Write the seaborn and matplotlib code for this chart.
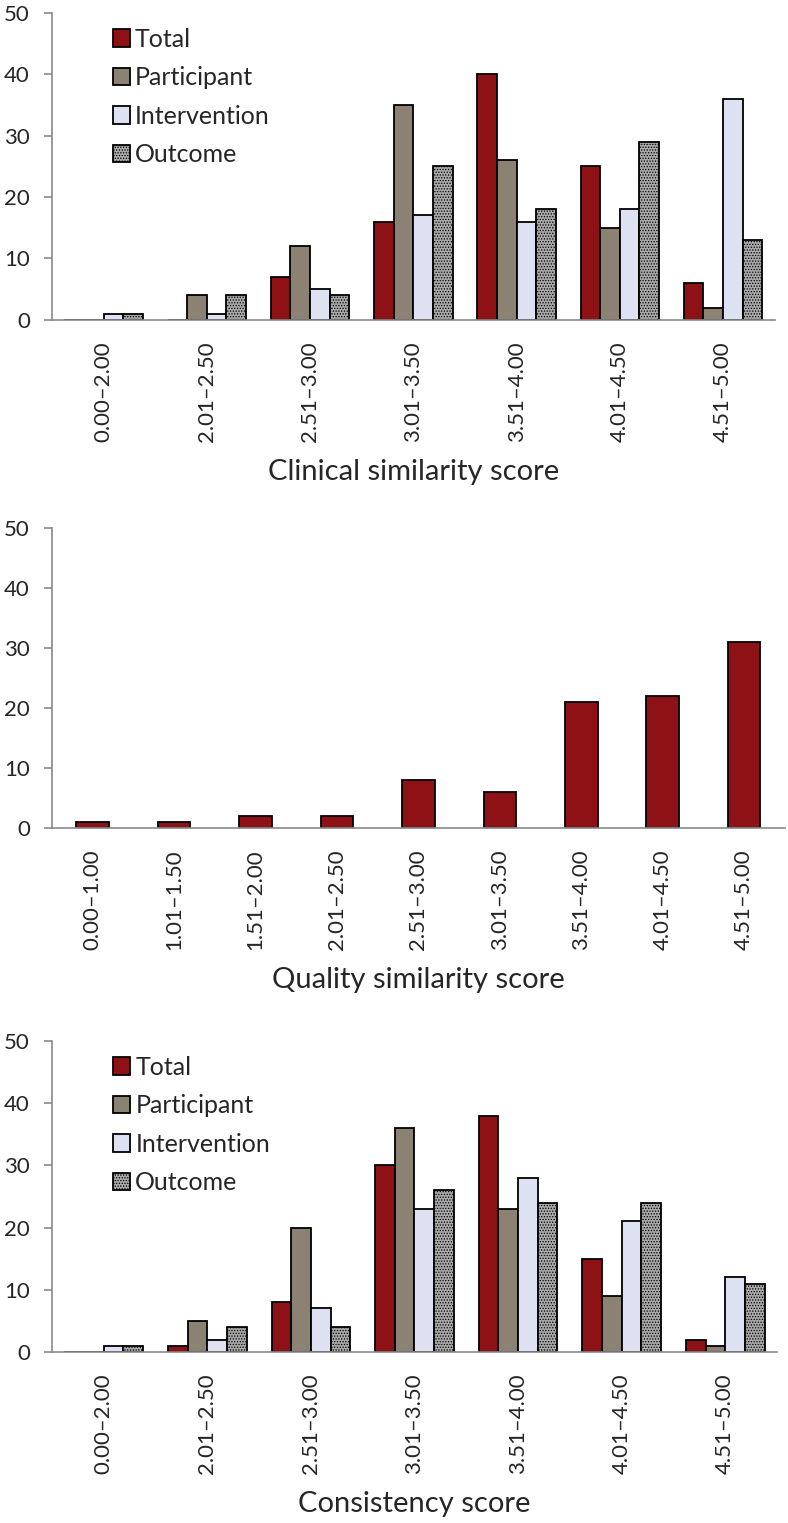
import matplotlib
matplotlib.use("Agg")
import matplotlib.pyplot as plt
import seaborn as sns
import pandas as pd

series = ["Total", "Participant", "Intervention", "Outcome"]

score_bins = ["0.00–2.00", "2.01–2.50", "2.51–3.00", "3.01–3.50",
              "3.51–4.00", "4.01–4.50", "4.51–5.00"]

clinical_total = [0, 0, 7, 16, 40, 25, 6]
clinical_participant = [0, 4, 12, 35, 26, 15, 2]
clinical_intervention = [1, 1, 5, 17, 16, 18, 36]
clinical_outcome = [1, 4, 4, 25, 18, 29, 13]

quality_bins = ["0.00–1.00", "1.01–1.50", "1.51–2.00", "2.01–2.50", "2.51–3.00",
                "3.01–3.50", "3.51–4.00", "4.01–4.50", "4.51–5.00"]
quality_total = [1, 1, 2, 2, 8, 6, 21, 22, 31]

consistency_total = [0, 1, 8, 30, 38, 15, 2]
consistency_participant = [0, 5, 20, 36, 23, 9, 1]
consistency_intervention = [1, 2, 7, 23, 28, 21, 12]
consistency_outcome = [1, 4, 4, 26, 24, 24, 11]

colors = {"Total": "#8e1116", "Participant": "#8c8274",
          "Intervention": "#dde1f1", "Outcome": "#a9a9a9"}
axis_grey = "#8a8a8a"

sns.set_style("white")
plt.rcParams["font.family"] = ["Lato", "DejaVu Sans"]
plt.rcParams["hatch.linewidth"] = 0.6


def long_table(bins, values):
    rows = []
    for name, vals in zip(series, values):
        for b, v in zip(bins, vals):
            rows.append({"bin": b, "series": name, "count": v})
    return pd.DataFrame(rows)


def style_axis(ax, xlabel):
    ax.set_ylim(0, 50)
    ax.set_yticks(range(0, 51, 10))
    sns.despine(ax=ax)
    for side in ["left", "bottom"]:
        ax.spines[side].set_color(axis_grey)
        ax.spines[side].set_linewidth(1.2)
    ax.tick_params(axis="y", left=True, length=6, width=1.2, color=axis_grey,
                   labelsize=16, pad=10)
    ax.tick_params(axis="x", bottom=False, labelsize=16, labelrotation=90, pad=12)
    ax.set_ylabel("")
    ax.set_xlabel(xlabel, fontsize=21, labelpad=12)


def grouped_panel(ax, values, xlabel):
    df = long_table(score_bins, values)
    sns.barplot(data=df, x="bin", y="count", hue="series", palette=colors,
                width=0.76, gap=0, saturation=1, edgecolor="black",
                linewidth=1.3, legend=False, ax=ax)
    for name, cont in zip(series, ax.containers):
        if name == "Outcome":
            for p in cont.patches:
                p.set_hatch("......")
    ax.legend(ax.containers, series, loc="upper left", bbox_to_anchor=(0.07, 0.985),
              frameon=False, fontsize=18, handlelength=0.7, handleheight=0.7,
              handletextpad=0.2, labelspacing=0.62, borderaxespad=0)
    style_axis(ax, xlabel)


fig = plt.figure(figsize=(7.88, 15.23), dpi=100)
ax1 = fig.add_axes([0.066, 0.790, 0.917, 0.2015])
ax2 = fig.add_axes([0.066, 0.4563, 0.93, 0.197])
ax3 = fig.add_axes([0.066, 0.1123, 0.92, 0.2042])

grouped_panel(ax1, [clinical_total, clinical_participant,
                    clinical_intervention, clinical_outcome],
              "Clinical similarity score")

sns.barplot(x=quality_bins, y=quality_total, color=colors["Total"], width=0.4,
            saturation=1, edgecolor="black", linewidth=1.3, ax=ax2)
style_axis(ax2, "Quality similarity score")

grouped_panel(ax3, [consistency_total, consistency_participant,
                    consistency_intervention, consistency_outcome],
              "Consistency score")

fig.savefig("out.png", dpi=100)
